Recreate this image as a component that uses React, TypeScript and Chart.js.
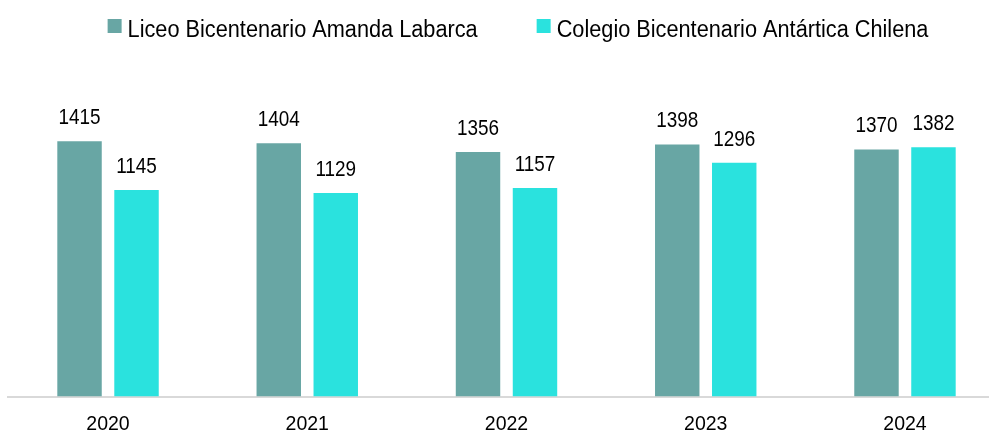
import React, { useEffect, useRef } from "react";
import { Chart, registerables } from "chart.js";

Chart.register(...registerables);

const categories = ["2020", "2021", "2022", "2023", "2024"];
const seriesNames = ["Liceo Bicentenario Amanda Labarca", "Colegio Bicentenario Antártica Chilena"];
const liceoValues = [1415, 1404, 1356, 1398, 1370];
const colegioValues = [1145, 1129, 1157, 1296, 1382];
const seriesColors = ["#68A6A4", "#2AE2DE"];

const CANVAS_W = 1036;
const CANVAS_H = 435;

const labelPlugin = {
  id: "valueLabels",
  afterDatasetsDraw(chart: any) {
    const ctx = chart.ctx;
    ctx.font = '22px "Liberation Sans", Arial, sans-serif';
    ctx.fillStyle = "#000";
    ctx.textAlign = "center";
    ctx.textBaseline = "alphabetic";
    chart.data.datasets.forEach((ds: any, di: number) => {
      const meta = chart.getDatasetMeta(di);
      meta.data.forEach((bar: any, i: number) => {
        ctx.save();
        ctx.translate(bar.x, bar.y - 17);
        ctx.scale(0.86, 1);
        ctx.fillText(String(ds.data[i]), 0, 0);
        ctx.restore();
      });
    });
  },
};

const legendPlugin = {
  id: "topLegend",
  afterDraw(chart: any) {
    const ctx = chart.ctx;
    ctx.save();
    ctx.font = '23px "Liberation Sans", Arial, sans-serif';
    ctx.textBaseline = "alphabetic";
    ctx.textAlign = "left";
    const sx = 0.944;
    const box = 14;
    const boxGap = 6;
    const itemGap = 59;
    const items = chart.data.datasets.map((ds: any) => ({
      label: ds.label,
      color: ds.backgroundColor,
      w: ctx.measureText(ds.label).width * sx,
    }));
    const total =
      items.reduce((s: number, it: any) => s + box + boxGap + it.w, 0) + itemGap * (items.length - 1);
    let x = 518 - total / 2;
    items.forEach((it: any) => {
      ctx.fillStyle = it.color;
      ctx.fillRect(x, 19, box, box);
      ctx.fillStyle = "#000";
      ctx.save();
      ctx.translate(x + box + boxGap, 36.5);
      ctx.scale(sx, 1);
      ctx.fillText(it.label, 0, 0);
      ctx.restore();
      x += box + boxGap + it.w + itemGap;
    });
    ctx.restore();
  },
};

export default function App() {
  const ref = useRef<HTMLCanvasElement | null>(null);

  useEffect(() => {
    if (!ref.current) return;
    const chart = new Chart(ref.current, {
      type: "bar",
      data: {
        labels: categories,
        datasets: [
          {
            label: seriesNames[0],
            data: liceoValues,
            backgroundColor: seriesColors[0],
            categoryPercentage: 0.572,
            barPercentage: 0.78,
          },
          {
            label: seriesNames[1],
            data: colegioValues,
            backgroundColor: seriesColors[1],
            categoryPercentage: 0.572,
            barPercentage: 0.78,
          },
        ],
      },
      options: {
        responsive: false,
        animation: false,
        layout: { padding: { top: 108, left: 8.4, right: 31.4, bottom: 0 } },
        plugins: {
          legend: { display: false },
          tooltip: { enabled: false },
        },
        scales: {
          x: {
            grid: { display: false, drawTicks: false },
            border: { display: true, color: "#D9D9D9", width: 2 },
            ticks: {
              color: "#000",
              padding: 16.5,
              font: { family: '"Liberation Sans", Arial, sans-serif', size: 19.5 },
            },
            afterFit(scale: any) {
              scale.height = 38.5;
            },
          },
          y: {
            display: false,
            min: 0,
            max: 1600,
          },
        },
      },
      plugins: [labelPlugin, legendPlugin],
    });
    return () => chart.destroy();
  }, []);

  return (
    <div
      style={{
        position: "fixed",
        left: 0,
        top: 0,
        width: 989,
        height: 435,
        overflow: "hidden",
        background: "#fff",
      }}
    >
      <canvas ref={ref} width={CANVAS_W} height={CANVAS_H} style={{ display: "block" }} />
    </div>
  );
}
